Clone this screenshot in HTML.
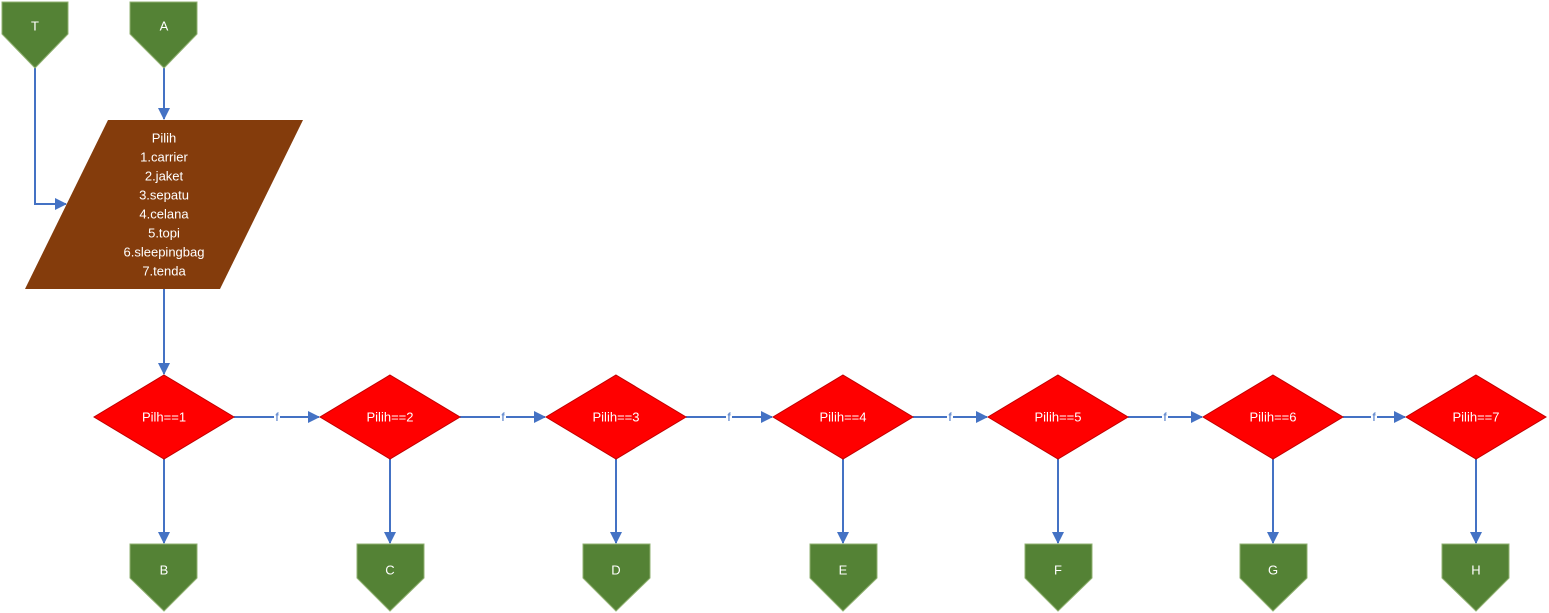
<!DOCTYPE html>
<html><head><meta charset="utf-8"><style>
html,body{margin:0;padding:0;background:#fff;width:1549px;height:613px;overflow:hidden}
svg text{font-family:"Liberation Sans",sans-serif;font-size:13px;fill:#fff;text-anchor:middle;dominant-baseline:central}
</style></head><body>
<svg width="1549" height="613" viewBox="0 0 1549 613" xmlns="http://www.w3.org/2000/svg">
<defs><marker id="a" markerWidth="12" markerHeight="12" refX="11" refY="6" orient="auto" markerUnits="userSpaceOnUse"><path d="M0,0 L12,6 L0,12 z" fill="#4472C4"/></marker></defs>
<g stroke="#4472C4" stroke-width="2" fill="none" marker-end="url(#a)">
<path d="M35,68 V204 H66"/>
<path d="M164,68 V119"/>
<path d="M164,289 V374"/>
<path d="M164,459 V543"/><path d="M390,459 V543"/><path d="M616,459 V543"/><path d="M843,459 V543"/><path d="M1058,459 V543"/><path d="M1273,459 V543"/><path d="M1476,459 V543"/>
<path d="M234,417 H319"/><path d="M460,417 H545"/><path d="M686,417 H772"/><path d="M913,417 H987"/><path d="M1128,417 H1202"/><path d="M1343,417 H1405"/>
</g>
<g>
<rect x="274" y="410" width="6" height="14" fill="#fff"/><text x="277" y="417" style="fill:#4472C4;font-size:12px">f</text>
<rect x="500" y="410" width="6" height="14" fill="#fff"/><text x="503" y="417" style="fill:#4472C4;font-size:12px">f</text>
<rect x="726" y="410" width="6" height="14" fill="#fff"/><text x="729" y="417" style="fill:#4472C4;font-size:12px">f</text>
<rect x="947" y="410" width="6" height="14" fill="#fff"/><text x="950" y="417" style="fill:#4472C4;font-size:12px">f</text>
<rect x="1162" y="410" width="6" height="14" fill="#fff"/><text x="1165" y="417" style="fill:#4472C4;font-size:12px">f</text>
<rect x="1371" y="410" width="6" height="14" fill="#fff"/><text x="1374" y="417" style="fill:#4472C4;font-size:12px">f</text>
</g>
<g fill="#548235" stroke="#8fb070" stroke-width="1">
<path d="M2,2 H68 V34 L35,68 L2,34 Z"/>
<path d="M130,2 H197 V34 L164,68 L130,34 Z"/>
<path d="M130,544 H197 V578 L164,611 L130,578 Z"/>
<path d="M357,544 H424 V578 L390,611 L357,578 Z"/>
<path d="M583,544 H650 V578 L616,611 L583,578 Z"/>
<path d="M810,544 H877 V578 L843,611 L810,578 Z"/>
<path d="M1025,544 H1092 V578 L1058,611 L1025,578 Z"/>
<path d="M1240,544 H1307 V578 L1273,611 L1240,578 Z"/>
<path d="M1442,544 H1509 V578 L1476,611 L1442,578 Z"/>
</g>
<text x="35" y="26">T</text><text x="164" y="26">A</text>
<text x="164" y="570">B</text><text x="390" y="570">C</text><text x="616" y="570">D</text><text x="843" y="570">E</text><text x="1058" y="570">F</text><text x="1273" y="570">G</text><text x="1476" y="570">H</text>
<path d="M108,120 H303 L220,289 H25 Z" fill="#843C0C"/>
<text x="164" y="138">Pilih</text>
<text x="164" y="157">1.carrier</text>
<text x="164" y="176">2.jaket</text>
<text x="164" y="195">3.sepatu</text>
<text x="164" y="214">4.celana</text>
<text x="164" y="233">5.topi</text>
<text x="164" y="252">6.sleepingbag</text>
<text x="164" y="271">7.tenda</text>
<g fill="#FF0000" stroke="#c00000" stroke-width="1">
<path d="M164,375 L234,417 L164,459 L94,417 Z"/>
<path d="M390,375 L460,417 L390,459 L320,417 Z"/>
<path d="M616,375 L686,417 L616,459 L546,417 Z"/>
<path d="M843,375 L913,417 L843,459 L773,417 Z"/>
<path d="M1058,375 L1128,417 L1058,459 L988,417 Z"/>
<path d="M1273,375 L1343,417 L1273,459 L1203,417 Z"/>
<path d="M1476,375 L1546,417 L1476,459 L1406,417 Z"/>
</g>
<text x="164" y="417">Pilh==1</text>
<text x="390" y="417">Pilih==2</text>
<text x="616" y="417">Pilih==3</text>
<text x="843" y="417">Pilih==4</text>
<text x="1058" y="417">Pilih==5</text>
<text x="1273" y="417">Pilih==6</text>
<text x="1476" y="417">Pilih==7</text>
</svg>
</body></html>
